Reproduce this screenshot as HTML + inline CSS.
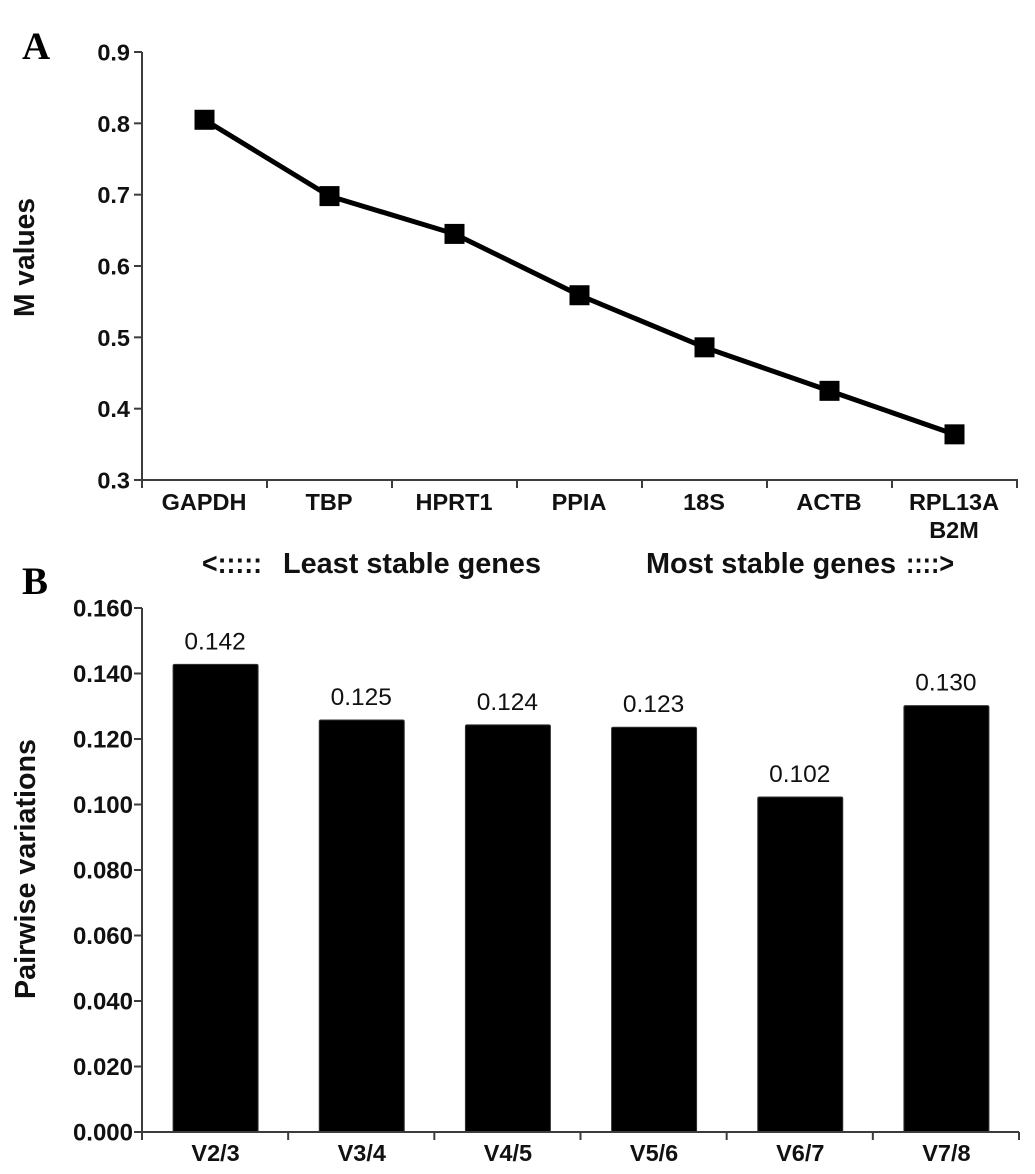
<!DOCTYPE html>
<html lang="en">
<head>
<meta charset="utf-8">
<title>M values and pairwise variations</title>
<style>
html,body{margin:0;padding:0;background:#fff;}
svg{display:block;}
text{font-family:"Liberation Sans",Arial,sans-serif;font-weight:bold;fill:#111;}
</style>
</head>
<body>
<svg id="figure" width="1035" height="1174" viewBox="0 0 1035 1174" xmlns="http://www.w3.org/2000/svg">
<text x="22" y="59" style="font-family:'Liberation Serif',serif;font-size:39px;fill:#000">A</text>
<text x="22" y="594" style="font-family:'Liberation Serif',serif;font-size:39px;fill:#000">B</text>
<text transform="translate(34,317) rotate(-90)" font-size="28.5" textLength="119" lengthAdjust="spacingAndGlyphs">M values</text>
<text transform="translate(35,999) rotate(-90)" font-size="28.5" textLength="260" lengthAdjust="spacingAndGlyphs">Pairwise variations</text>
<text x="202" y="573" font-size="28.5" textLength="60" lengthAdjust="spacingAndGlyphs">&lt;:::::</text>
<text x="283" y="573" font-size="28.5" textLength="258" lengthAdjust="spacingAndGlyphs">Least stable genes</text>
<text x="646" y="573" font-size="28.5" textLength="250" lengthAdjust="spacingAndGlyphs">Most stable genes</text>
<text x="906" y="573" font-size="28.5" textLength="48" lengthAdjust="spacingAndGlyphs">::::&gt;</text>
<g id="chartA"></g>
<g id="chartB"></g>
</svg>
<script>
var geneNames = [["GAPDH"],["TBP"],["HPRT1"],["PPIA"],["18S"],["ACTB"],["RPL13A","B2M"]];
var mValues = [0.805,0.698,0.645,0.559,0.486,0.425,0.364];
var mTicks = ["0.3","0.4","0.5","0.6","0.7","0.8","0.9"];
var pairNames = ["V2/3","V3/4","V4/5","V5/6","V6/7","V7/8"];
var pairValues = [0.1428,0.1258,0.1243,0.1236,0.1023,0.1302];
var pairPrinted = ["0.142","0.125","0.124","0.123","0.102","0.130"];
var pairTicks = ["0.000","0.020","0.040","0.060","0.080","0.100","0.120","0.140","0.160"];

var NS = "http://www.w3.org/2000/svg";
var AXIS = "#3c3c3c";
function make(parent, tag, attrs, txt){
  var el = document.createElementNS(NS, tag);
  for (var k in attrs) el.setAttribute(k, attrs[k]);
  if (txt !== undefined) el.textContent = txt;
  parent.appendChild(el);
  return el;
}

/* Chart A */
var gA = document.getElementById("chartA");
var aLeft = 142, aRight = 1017, aTop = 52, aBottom = 480;
function ax(i){ return aLeft + (i + 0.5) * (aRight - aLeft) / geneNames.length; }
function ay(v){ return aBottom - (v - 0.3) / (0.9 - 0.3) * (aBottom - aTop); }

var aAxis = make(gA, "path", {d:"M"+aLeft+" "+aTop+"V"+(aBottom+8)+"M"+aLeft+" "+aBottom+"H"+aRight+"v8", fill:"none", stroke:AXIS, "stroke-width":2});



mTicks.forEach(function(t){
  var y = ay(parseFloat(t));
  var tick = make(gA, "line", {x1:aLeft-8, x2:aLeft, y1:y, y2:y, stroke:AXIS, "stroke-width":2});
  
  
  var lab = make(gA, "text", {x:aLeft-12, y:y+8.5, "font-size":23.5, "text-anchor":"end"}, t);
  
  
});

geneNames.forEach(function(lines, i){
  if (i > 0) {
    var x = aLeft + i * (aRight - aLeft) / geneNames.length;
    var tick = make(gA, "line", {x1:x, x2:x, y1:aBottom, y2:aBottom+8, stroke:AXIS, "stroke-width":2});
    
    
  }
  lines.forEach(function(line, j){
    var lab = make(gA, "text", {x:ax(i)-0.5, y:510+j*28, "font-size":23.5, "text-anchor":"middle"}, line);
    
    
  });
});

var linePts = mValues.map(function(v,i){ return ax(i)+","+ay(v); }).join(" ");
var line = make(gA, "polyline", {points:linePts, fill:"none", stroke:"#000", "stroke-width":5});



mValues.forEach(function(v,i){
  var pt = make(gA, "rect", {x:ax(i)-10, y:ay(v)-10, width:20, height:20, fill:"#000"});
  
  
});

/* Chart B */
var gB = document.getElementById("chartB");
var bLeft = 142, bRight = 1019, bTop = 608, bBottom = 1132, bMax = 0.16;
function bx(i){ return bLeft + (i + 0.5) * (bRight - bLeft) / pairNames.length; }
function by(v){ return bBottom - v / bMax * (bBottom - bTop); }

pairValues.forEach(function(v,i){
  var y = by(v);
  var bar = make(gB, "rect", {x:bx(i)-42, y:y, width:85, height:bBottom-y, rx:1.5, fill:"#000", stroke:"#333", "stroke-width":1});
  
  
  var val = make(gB, "text", {x:bx(i), y:y-15, "font-size":24.5, "text-anchor":"middle", style:"font-weight:normal"}, pairPrinted[i]);
  
  
  var lab = make(gB, "text", {x:bx(i)+0.5, y:1161, "font-size":23.5, "text-anchor":"middle"}, pairNames[i]);
  
  
  var tx = bLeft + (i + 1) * (bRight - bLeft) / pairNames.length;
  var tick = make(gB, "line", {x1:tx, x2:tx, y1:bBottom, y2:bBottom+8, stroke:AXIS, "stroke-width":2});
  
  
});

var bAxis = make(gB, "path", {d:"M"+bLeft+" "+bTop+"V"+(bBottom+8)+"M"+bLeft+" "+bBottom+"H"+bRight, fill:"none", stroke:AXIS, "stroke-width":2});



pairTicks.forEach(function(t){
  var y = by(parseFloat(t));
  var tick = make(gB, "line", {x1:bLeft-8, x2:bLeft, y1:y, y2:y, stroke:AXIS, "stroke-width":2});
  
  
  var lab = make(gB, "text", {x:bLeft-9, y:y+8.5, "font-size":24, "text-anchor":"end"}, t);
  
  
});
</script>
</body>
</html>
